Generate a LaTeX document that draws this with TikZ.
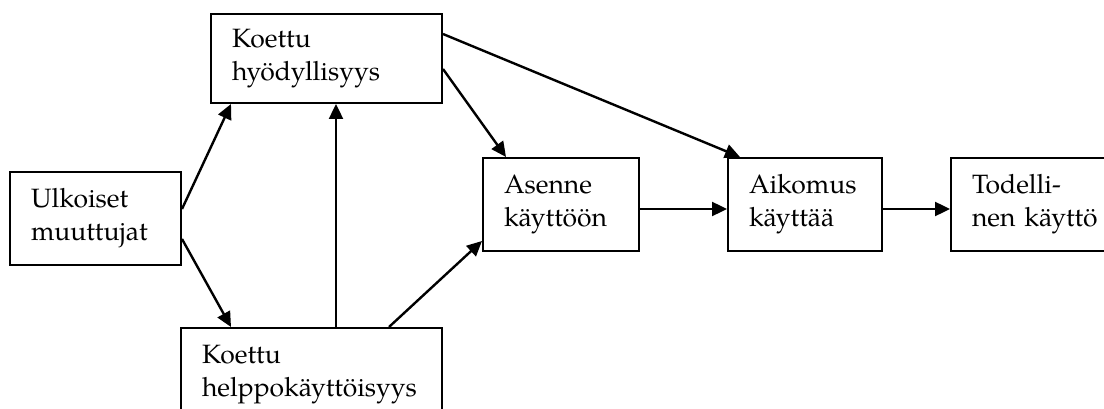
\documentclass[tikz,border=0pt]{standalone}
\usepackage{fontspec}
\setmainfont{TeX Gyre Pagella}
\usetikzlibrary{arrows.meta}
\hyphenpenalty=10000

\begin{document}
\begin{tikzpicture}[x=1pt, y=-1pt,
        box/.style={draw, line width=2pt, anchor=north west, align=left,
            inner xsep=21pt, inner ysep=0pt, minimum height=93pt,
            font=\fontsize{26.5}{33}\selectfont},
        arr/.style={line width=2.4pt, -{Triangle[length=15pt, width=14pt]}}]
    \useasboundingbox (0,0) rectangle (1104,409);
    \clip (0,0) rectangle (1104,409);

    \node[box, text width=129pt] (ulk) at (9,171) {Ulkoiset\\muuttujat};
    \node[box, text width=189pt, minimum height=89pt] (hyod) at (210,13) {Koettu\\hyödyllisyys};
    \node[box, text width=219pt] (help) at (180,327) {Koettu\\helppokäyttöisyys};
    \node[box, text width=114pt] (asen) at (482,157) {Asenne\\käyttöön};
    \node[box, text width=112pt] (aik) at (727,157) {Aikomus\\käyttää};
    \node[box, text width=140pt] (tod) at (950,157) {Todelli-\\nen käyttö};

    \draw[arr] ([yshift=9.5pt]ulk.east) -- ([xshift=21pt]hyod.south west);
    \draw[arr] ([yshift=-20.5pt]ulk.east) -- ([xshift=51pt]help.north west);
    \draw[arr] ([xshift=156pt]help.north west) -- ([xshift=126pt]hyod.south west);
    \draw[arr] ([xshift=209pt]help.north west) -- ([yshift=-36.5pt]asen.west);
    \draw[arr] ([yshift=-10.5pt]hyod.east) -- ([xshift=24pt]asen.north west);
    \draw[arr] ([yshift=24.5pt]hyod.east) -- ([xshift=13pt]aik.north west);
    \draw[arr] ([yshift=-4.5pt]asen.east) -- ([yshift=-4.5pt]aik.west);
    \draw[arr] ([yshift=-4.5pt]aik.east) -- ([yshift=-4.5pt]tod.west);
\end{tikzpicture}
\end{document}
